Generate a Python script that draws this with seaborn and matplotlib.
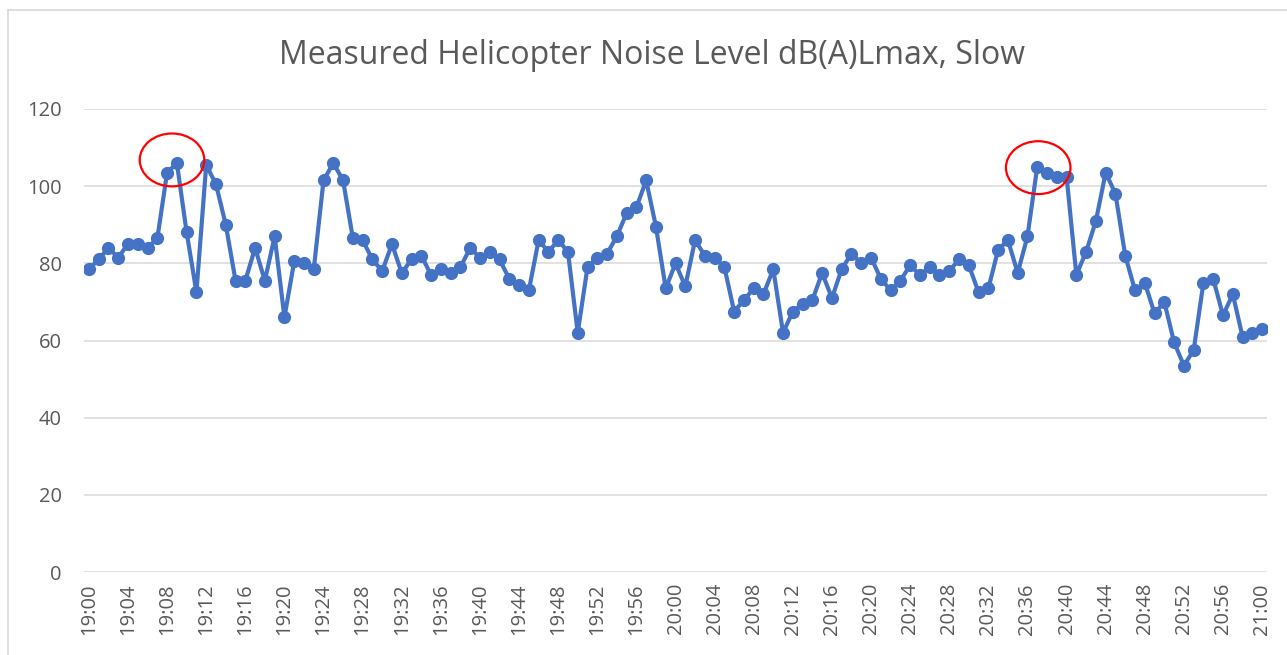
import matplotlib
matplotlib.use("Agg")
import matplotlib.pyplot as plt
from matplotlib.patches import Ellipse
from matplotlib.lines import Line2D
import numpy as np
import pandas as pd
import seaborn as sns

title = "Measured Helicopter Noise Level dB(A)Lmax, Slow"

# minute-by-minute Lmax readings, 19:00 .. 21:00
noise_db = [
    78.5, 81, 84, 81.5, 85, 85, 84, 86.5, 103.5, 106,
    88, 72.5, 105.5, 100.5, 90, 75.5, 75.5, 84, 75.5, 87,
    66, 80.5, 80, 78.5, 101.5, 106, 101.5, 86.5, 86, 81,
    78, 85, 77.5, 81, 82, 77, 78.5, 77.5, 79, 84,
    81.5, 83, 81, 76, 74.5, 73, 86, 83, 86, 83,
    62, 79, 81.5, 82.5, 87, 93, 94.5, 101.5, 89.5, 73.5,
    80, 74, 86, 82, 81.5, 79, 67.5, 70.5, 73.5, 72,
    78.5, 62, 67.5, 69.5, 70.5, 77.5, 71, 78.5, 82.5, 80,
    81.5, 76, 73, 75.5, 79.5, 77, 79, 77, 78, 81,
    79.5, 72.5, 73.5, 83.5, 86, 77.5, 87, 105, 103.5, 102.5,
    102.5, 77, 83, 91, 103.5, 98, 82, 73, 75, 67,
    70, 59.5, 53.5, 57.5, 75, 76, 66.5, 72, 61, 62,
    63,
]
times = pd.date_range("19:00", "21:00", freq="1min").strftime("%H:%M").tolist()
y_ticks = [0, 20, 40, 60, 80, 100, 120]

# highlighted peaks (red circles): minute index, dB
circle_x = [8.5, 97.1]
circle_y = [106.8, 104.8]

df = pd.DataFrame({"idx": np.arange(len(noise_db)), "db": noise_db})

sns.set_theme(style="white")
plt.rcParams["font.family"] = ["Open Sans", "DejaVu Sans"]

fig = plt.figure(figsize=(12.87, 6.55), dpi=100)
ax = fig.add_axes([84 / 1287, 1 - 572 / 655, (1267 - 84) / 1287, (572 - 109) / 655])

sns.lineplot(data=df, x="idx", y="db", ax=ax, color="#4472C4", linewidth=3.0,
             marker="o", markersize=9.5, markeredgewidth=0, zorder=3)

ax.set_xlim(-0.5, len(noise_db) - 0.5)
ax.set_ylim(0, 120)
ax.set_yticks(y_ticks)
ax.set_yticklabels([str(v) for v in y_ticks])
ax.set_xticks(np.arange(0, len(noise_db), 4))
ax.set_xticklabels(times[::4], rotation=90)
ax.tick_params(axis="y", length=0, pad=16, labelsize=14.5, labelcolor="#595959")
ax.tick_params(axis="x", length=0, pad=8, labelsize=14.5, labelcolor="#595959")
ax.grid(axis="y", color="#d9d9d9", linewidth=1.1)
ax.grid(axis="x", visible=False)
for s in ax.spines.values():
    s.set_visible(False)
ax.set_xlabel("")
ax.set_ylabel("")

for cx, cy in zip(circle_x, circle_y):
    ax.add_patch(Ellipse((cx, cy), width=6.6, height=13.7, fill=False,
                         edgecolor="#FF0000", linewidth=1.6, zorder=4))

fig.text(652 / 1287, 1 - 55 / 655, title, ha="center", va="center",
         fontsize=23, color="#595959")

# chart border
fig.add_artist(Line2D([8 / 1287, 1], [1 - 10 / 655, 1 - 10 / 655],
                      transform=fig.transFigure, color="#d9d9d9", linewidth=1.2))
fig.add_artist(Line2D([8 / 1287, 8 / 1287], [0, 1 - 10 / 655],
                      transform=fig.transFigure, color="#d9d9d9", linewidth=1.2))

fig.savefig("out.png", dpi=100)
